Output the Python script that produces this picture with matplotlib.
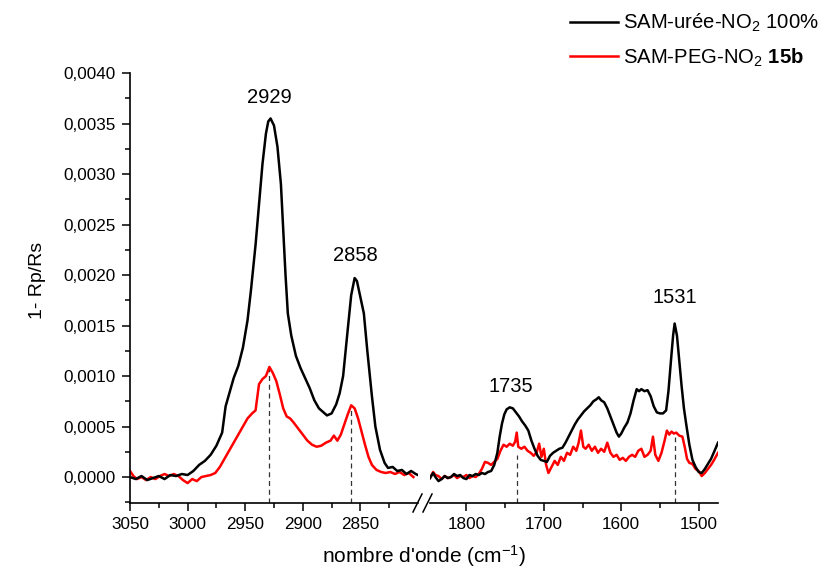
import matplotlib
matplotlib.use("Agg")
import matplotlib.pyplot as plt
from matplotlib.lines import Line2D
from matplotlib.ticker import FixedLocator, FuncFormatter

plt.rcParams['font.family'] = ['Liberation Sans', 'DejaVu Sans']
plt.rcParams['mathtext.fontset'] = 'custom'
plt.rcParams['mathtext.rm'] = 'Liberation Sans'
plt.rcParams['mathtext.it'] = 'Liberation Sans:italic'
plt.rcParams['mathtext.bf'] = 'Liberation Sans:bold'

# ---------------- data ----------------
# high wavenumber region (left panel)
wn_hi_black = [3050, 3045, 3040, 3035, 3030, 3025, 3020, 3015, 3010, 3005, 3000, 2995, 2990, 2985,
               2980, 2975, 2970, 2967, 2964, 2960, 2956, 2952, 2948, 2945, 2941, 2938, 2935, 2932,
               2930, 2928, 2925, 2922, 2919, 2917, 2915, 2913, 2910, 2906, 2902, 2898, 2894, 2890,
               2886, 2882, 2879, 2875, 2871, 2868, 2865, 2861, 2858, 2855, 2853, 2850, 2847, 2844,
               2840, 2837, 2833, 2829, 2826, 2822, 2818, 2814, 2810, 2806, 2802, 2800]
black_hi = [0.00000, -0.00002, 0.00001, -0.00003, -0.00001, 0.00001, -0.00002, 0.00002, 0.00001,
            0.00003, 0.00002, 0.00006, 0.00012, 0.00016, 0.00022, 0.00031, 0.00044, 0.00070,
            0.00082, 0.00098, 0.00110, 0.00128, 0.00155, 0.00185, 0.00230, 0.00270, 0.00310,
            0.00340, 0.00352, 0.00355, 0.00348, 0.00327, 0.00290, 0.00245, 0.00200, 0.00162,
            0.00140, 0.00120, 0.00108, 0.00098, 0.00088, 0.00076, 0.00068, 0.00064, 0.00061,
            0.00063, 0.00072, 0.00083, 0.00100, 0.00146, 0.00180, 0.00197, 0.00194, 0.00178,
            0.00162, 0.00125, 0.00080, 0.00050, 0.00027, 0.00014, 0.00009, 0.00010, 0.00006,
            0.00007, 0.00003, 0.00006, 0.00003, 0.00002]

wn_hi_red = [3050, 3047, 3044, 3040, 3036, 3032, 3028, 3024, 3020, 3016, 3012, 3008, 3004, 3000,
             2996, 2992, 2988, 2984, 2980, 2976, 2972, 2968, 2964, 2960, 2956, 2952, 2948, 2944,
             2941, 2938, 2935, 2932, 2929, 2926, 2923, 2920, 2917, 2914, 2911, 2908, 2904, 2900,
             2896, 2892, 2888, 2884, 2880, 2876, 2873, 2870, 2867, 2864, 2861, 2858, 2855, 2852,
             2849, 2846, 2843, 2840, 2836, 2832, 2828, 2824, 2820, 2816, 2812, 2808, 2804]
red_hi = [0.00006, 0.00001, -0.00002, 0.00000, -0.00003, 0.00000, -0.00002, 0.00001, 0.00003,
          0.00001, 0.00003, 0.00001, -0.00003, -0.00006, -0.00002, -0.00004, 0.00000, 0.00001,
          0.00002, 0.00004, 0.00010, 0.00018, 0.00026, 0.00034, 0.00042, 0.00050, 0.00058,
          0.00063, 0.00066, 0.00092, 0.00097, 0.00100, 0.00109, 0.00103, 0.00095, 0.00082,
          0.00068, 0.00060, 0.00058, 0.00054, 0.00048, 0.00042, 0.00036, 0.00032, 0.00030,
          0.00031, 0.00034, 0.00036, 0.00041, 0.00036, 0.00042, 0.00052, 0.00062, 0.00071,
          0.00068, 0.00058, 0.00045, 0.00032, 0.00020, 0.00012, 0.00007, 0.00005, 0.00004,
          0.00005, 0.00003, 0.00005, 0.00002, 0.00004, 0.00000]

# low wavenumber region (right panel)
wn_lo_black = [1847, 1843, 1840, 1836, 1832, 1828, 1824, 1820, 1816, 1812, 1808, 1804, 1800, 1796,
               1792, 1788, 1784, 1780, 1776, 1772, 1768, 1764, 1760, 1757, 1754, 1751, 1748, 1744,
               1740, 1736, 1732, 1728, 1724, 1720, 1716, 1712, 1708, 1704, 1700, 1696, 1692, 1688,
               1684, 1680, 1676, 1672, 1668, 1664, 1660, 1656, 1652, 1648, 1644, 1640, 1636, 1632,
               1629, 1626, 1622, 1618, 1614, 1610, 1606, 1603, 1600, 1596, 1592, 1588, 1584, 1580,
               1577, 1574, 1570, 1566, 1562, 1558, 1554, 1550, 1546, 1542, 1539, 1536, 1533, 1531,
               1528, 1525, 1522, 1519, 1516, 1512, 1508, 1504, 1500, 1496, 1492, 1488, 1484, 1480,
               1475]
black_lo = [-0.00001, 0.00004, 0.00000, -0.00004, -0.00002, 0.00001, -0.00001, 0.00000, 0.00003,
            0.00001, 0.00002, -0.00001, -0.00002, 0.00002, 0.00001, 0.00003, 0.00002, 0.00004,
            0.00003, 0.00005, 0.00006, 0.00012, 0.00024, 0.00040, 0.00053, 0.00062, 0.00067,
            0.00069, 0.00068, 0.00064, 0.00060, 0.00055, 0.00051, 0.00046, 0.00036, 0.00028,
            0.00021, 0.00017, 0.00016, 0.00015, 0.00021, 0.00024, 0.00026, 0.00028, 0.00029,
            0.00034, 0.00040, 0.00046, 0.00052, 0.00057, 0.00061, 0.00065, 0.00068, 0.00071,
            0.00075, 0.00077, 0.00079, 0.00076, 0.00074, 0.00068, 0.00060, 0.00052, 0.00044,
            0.00040, 0.00043, 0.00049, 0.00054, 0.00063, 0.00076, 0.00087, 0.00085, 0.00087,
            0.00085, 0.00086, 0.00080, 0.00070, 0.00064, 0.00063, 0.00063, 0.00066, 0.00085,
            0.00113, 0.00140, 0.00152, 0.00140, 0.00115, 0.00090, 0.00068, 0.00052, 0.00032,
            0.00017, 0.00010, 0.00005, 0.00004, 0.00008, 0.00013, 0.00018, 0.00025, 0.00034]

wn_lo_red = [1847, 1843, 1840, 1836, 1832, 1828, 1824, 1820, 1816, 1812, 1808, 1804, 1800, 1796,
             1792, 1788, 1784, 1780, 1776, 1772, 1768, 1764, 1760, 1756, 1752, 1748, 1744, 1740,
             1737, 1735, 1733, 1729, 1725, 1721, 1717, 1713, 1709, 1706, 1703, 1700, 1697, 1694,
             1690, 1686, 1682, 1678, 1674, 1670, 1666, 1662, 1658, 1655, 1652, 1649, 1646, 1642,
             1638, 1634, 1630, 1626, 1622, 1618, 1614, 1610, 1606, 1602, 1598, 1594, 1590, 1586,
             1582, 1578, 1574, 1570, 1566, 1562, 1559, 1556, 1552, 1548, 1544, 1541, 1538, 1535,
             1532, 1529, 1525, 1521, 1518, 1515, 1512, 1508, 1504, 1500, 1496, 1492, 1488, 1484,
             1480, 1475]
red_lo = [-0.00001, 0.00005, 0.00002, 0.00001, -0.00002, 0.00001, -0.00001, 0.00000, 0.00002,
          -0.00001, 0.00001, 0.00000, 0.00002, -0.00001, 0.00001, 0.00000, 0.00003, 0.00008,
          0.00015, 0.00014, 0.00012, 0.00015, 0.00018, 0.00026, 0.00032, 0.00030, 0.00033,
          0.00031, 0.00035, 0.00044, 0.00030, 0.00028, 0.00030, 0.00026, 0.00024, 0.00021,
          0.00025, 0.00033, 0.00020, 0.00028, 0.00012, 0.00004, 0.00010, 0.00016, 0.00012,
          0.00020, 0.00016, 0.00024, 0.00022, 0.00030, 0.00026, 0.00034, 0.00046, 0.00030,
          0.00028, 0.00032, 0.00026, 0.00030, 0.00024, 0.00028, 0.00025, 0.00034, 0.00024,
          0.00020, 0.00022, 0.00017, 0.00019, 0.00016, 0.00020, 0.00022, 0.00020, 0.00026,
          0.00028, 0.00020, 0.00022, 0.00026, 0.00040, 0.00022, 0.00016, 0.00024, 0.00036,
          0.00046, 0.00042, 0.00045, 0.00043, 0.00044, 0.00041, 0.00040, 0.00030, 0.00018,
          0.00014, 0.00013, 0.00008, 0.00006, 0.00001, 0.00004, 0.00008, 0.00012, 0.00017,
          0.00024]

# peak markers: label, position, dashed-line top, label height
peak_hi_pos = [2929, 2858]
peak_hi_top = [0.00107, 0.00068]
peak_hi_lbl = ["2929", "2858"]
peak_hi_lbl_x = [2929, 2854]
peak_hi_lbl_y = [0.00376, 0.00219]

peak_lo_pos = [1735, 1531]
peak_lo_top = [0.00022, 0.00040]
peak_lo_lbl = ["1735", "1531"]
peak_lo_lbl_x = [1743, 1531]
peak_lo_lbl_y = [0.00090, 0.00178]

series_labels = [r"SAM-urée-NO$_2$ 100%", r"SAM-PEG-NO$_2$ $\mathbf{15b}$"]
yticks = [0.0, 0.0005, 0.0010, 0.0015, 0.0020, 0.0025, 0.0030, 0.0035, 0.0040]
xticks_hi = [3050, 3000, 2950, 2900, 2850]
xticks_lo = [1800, 1700, 1600, 1500]

# ---------------- figure ----------------
W, H = 830, 572
fig = plt.figure(figsize=(W / 100, H / 100), dpi=100)

def fx(px):
    return px / W

def fy(py):
    return 1 - py / H

ax_b = fy(503)
ax_h = fy(73) - fy(503)
ax1 = fig.add_axes([fx(130), ax_b, fx(418) - fx(130), ax_h])
ax2 = fig.add_axes([fx(430), ax_b, fx(718) - fx(430), ax_h])

ylim = (-0.000257, 0.0040)
black = "#000000"
red = "#ff0000"

l1, = ax1.plot(wn_hi_black, black_hi, color=black, lw=1.8, zorder=3)
l2, = ax1.plot(wn_hi_red, red_hi, color=red, lw=1.8, zorder=2)
ax2.plot(wn_lo_black, black_lo, color=black, lw=1.8, zorder=3)
ax2.plot(wn_lo_red, red_lo, color=red, lw=1.8, zorder=2)

for p, t in zip(peak_hi_pos, peak_hi_top):
    ax1.plot([p, p], [ylim[0], t], color="#333333", lw=0.9, ls=(0, (4, 3)), zorder=1)
for p, t in zip(peak_lo_pos, peak_lo_top):
    ax2.plot([p, p], [ylim[0], t], color="#333333", lw=0.9, ls=(0, (4, 3)), zorder=1)

for x, y, s in zip(peak_hi_lbl_x, peak_hi_lbl_y, peak_hi_lbl):
    ax1.text(x, y, s, ha="center", va="center", fontsize=14.5)
for x, y, s in zip(peak_lo_lbl_x, peak_lo_lbl_y, peak_lo_lbl):
    ax2.text(x, y, s, ha="center", va="center", fontsize=14.5)

ax1.set_xlim(3050, 2800)
ax2.set_xlim(1847, 1475)

comma_fmt = FuncFormatter(lambda v, pos: f"{v:.4f}".replace(".", ","))
for ax in (ax1, ax2):
    ax.set_ylim(*ylim)
    ax.spines["top"].set_visible(False)
    ax.spines["right"].set_visible(False)
    ax.spines["bottom"].set_linewidth(1.2)
    ax.spines["left"].set_linewidth(1.2)
    ax.tick_params(axis="both", which="major", direction="out", length=6, width=1.1,
                   labelsize=12.3, pad=4)
    ax.tick_params(axis="both", which="minor", direction="out", length=3.5, width=1.1)

ax2.spines["left"].set_visible(False)
ax2.tick_params(axis="y", which="both", left=False, labelleft=False)

ax1.yaxis.set_major_locator(FixedLocator(yticks))
ax1.yaxis.set_minor_locator(FixedLocator([v + 0.00025 for v in yticks[:-1]] + [-0.00025]))
ax1.yaxis.set_major_formatter(comma_fmt)

ax1.xaxis.set_major_locator(FixedLocator(xticks_hi))
ax1.xaxis.set_minor_locator(FixedLocator([3025, 2975, 2925, 2875, 2825]))
ax2.xaxis.set_major_locator(FixedLocator(xticks_lo))
ax2.xaxis.set_minor_locator(FixedLocator([1750, 1650, 1550]))

# axis break marks
for x0 in (413, 423):
    fig.add_artist(Line2D([fx(x0), fx(x0 + 9)], [fy(512), fy(494)], color="black",
                          lw=1.1, transform=fig.transFigure))

fig.text(fx(424), fy(556), "nombre d'onde (cm$^{-1}$)", ha="center", va="center", fontsize=15)
fig.text(fx(37), fy(280), "1- Rp/Rs", ha="center", va="center", rotation=90, fontsize=14)

fig.legend([l1, l2], series_labels, loc="upper left", bbox_to_anchor=(fx(562), fy(4)),
           frameon=False, fontsize=14.6, handlelength=2.35, handletextpad=0.28,
           labelspacing=0.6, borderaxespad=0)

fig.savefig("out.png", dpi=100)
